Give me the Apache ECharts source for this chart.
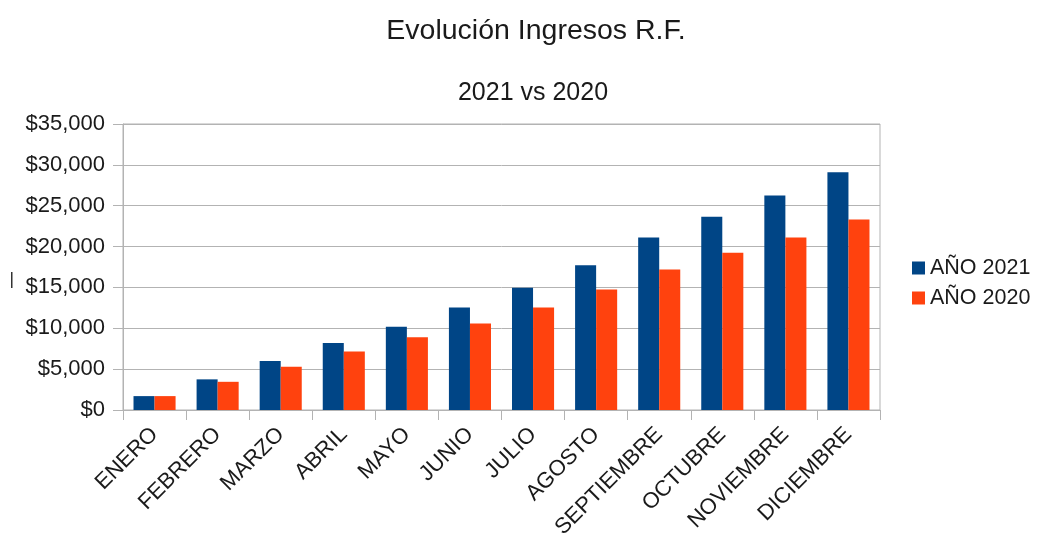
<!DOCTYPE html>
<html>
<head>
<meta charset="utf-8">
<script src="https://cdn.jsdelivr.net/npm/echarts@6/dist/echarts.min.js"></script>
<style>html,body{margin:0;padding:0;background:#fff}#c{width:1039px;height:542px}</style>
</head>
<body>
<div id="c"></div>
<script>
const categories = ['ENERO','FEBRERO','MARZO','ABRIL','MAYO','JUNIO','JULIO','AGOSTO','SEPTIEMBRE','OCTUBRE','NOVIEMBRE','DICIEMBRE'];
const ano2021 = [1700, 3750, 6000, 8200, 10200, 12550, 14950, 17700, 21100, 23650, 26250, 29100];
const ano2020 = [1700, 3450, 5300, 7150, 8900, 10600, 12550, 14750, 17200, 19250, 21100, 23300];
const yTicks = [0, 5000, 10000, 15000, 20000, 25000, 30000, 35000];

const font = 'Liberation Sans, Arial, sans-serif';
const chart = echarts.init(document.getElementById('c'));
chart.setOption({
  animation: false,
  backgroundColor: '#fff',
  title: [
    { text: 'Evolución Ingresos R.F.', left: 531, top: 12, textAlign: 'center',
      textStyle: { fontFamily: font, fontSize: 28.5, fontWeight: 'normal', color: '#1a1a1a' } },
    { text: '2021 vs 2020', left: 528, top: 76, textAlign: 'center',
      textStyle: { fontFamily: font, fontSize: 25, fontWeight: 'normal', color: '#1a1a1a' } }
  ],
  legend: {
    orient: 'vertical', left: 907, top: 252, itemWidth: 13, itemHeight: 13, itemGap: 8,
    icon: 'rect',
    textStyle: { fontFamily: font, fontSize: 21.5, color: '#1a1a1a' }
  },
  grid: { left: 123, right: 159, top: 124, bottom: 132, show: true, borderColor: '#b3b3b3', borderWidth: 1 },
  xAxis: {
    type: 'category', data: categories,
    axisLine: { lineStyle: { color: '#b3b3b3', width: 1 } },
    axisTick: { show: true, length: 10, lineStyle: { color: '#b3b3b3' } },
    axisLabel: { interval: 0, rotate: 45, margin: 21, fontFamily: font, fontSize: 22, color: '#1a1a1a' }
  },
  yAxis: {
    type: 'value', min: yTicks[0], max: yTicks[yTicks.length-1], interval: yTicks[1]-yTicks[0],
    axisLine: { show: true, lineStyle: { color: '#b3b3b3', width: 1 } },
    axisTick: { show: true, length: 10, lineStyle: { color: '#b3b3b3' } },
    splitLine: { lineStyle: { color: '#b3b3b3', width: 1 } },
    axisLabel: { margin: 18, fontFamily: font, fontSize: 22, color: '#1a1a1a',
      formatter: v => '$' + v.toLocaleString('en-US') }
  },
  graphic: [
    { type: 'rect', left: 11, top: 272, shape: { width: 1.5, height: 16 }, style: { fill: '#333' } }
  ],
  series: [
    { name: 'AÑO 2021', type: 'bar', data: ano2021, barGap: '0%', barCategoryGap: '33.3%',
      itemStyle: { color: '#004586' } },
    { name: 'AÑO 2020', type: 'bar', data: ano2020,
      itemStyle: { color: '#ff420e' } }
  ]
});
</script>
</body>
</html>
